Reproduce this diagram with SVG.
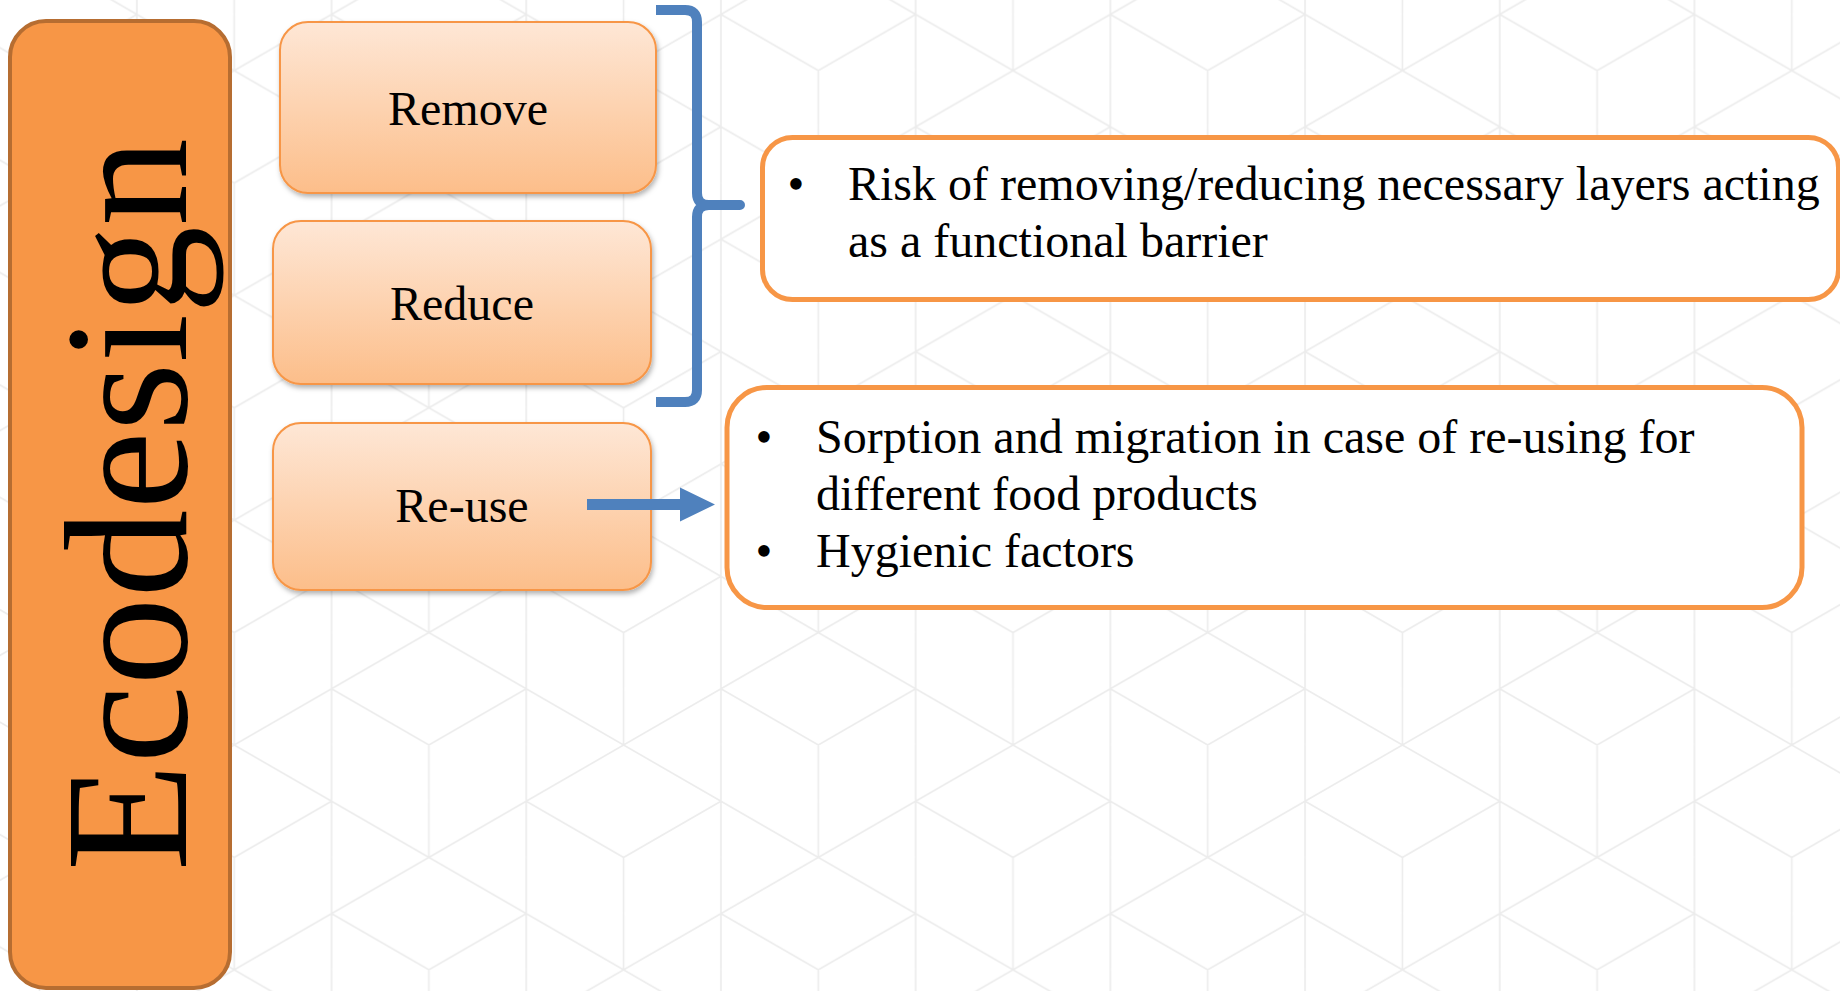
<svg xmlns="http://www.w3.org/2000/svg" width="1840" height="991" viewBox="0 0 1840 991">
  <style>
    .serif { font-family: "Liberation Serif", "Times New Roman", serif; fill: #000; }
    .step { fill: url(#stepGrad); stroke: #F79646; stroke-width: 2; filter: url(#shadow); }
    .label { font-size: 48px; text-anchor: middle; }
    .note { fill: #FFFFFF; stroke: #F79646; stroke-width: 5; }
    .body { font-size: 48px; }
    .blue { fill: #4F81BD; }
  </style>
  <defs>
    <pattern id="iso" patternUnits="userSpaceOnUse" x="331.55" y="70.6" width="389.4" height="224.8">
      <path d="M0,0V224.8 M389.4,0V224.8 M194.7,0V224.8 M97.35,0V112.4 M292.05,112.4V224.8
               M194.7,56.2L97.35,112.4L0,56.2 M97.35,112.4L194.7,168.6 M0,168.6L97.35,112.4
               M0,168.6L97.35,224.8L194.7,168.6
               M194.7,56.2L292.05,0L389.4,56.2 M389.4,168.6L292.05,224.8L194.7,168.6
               M194.7,56.2L292.05,112.4L389.4,56.2"
            fill="none" stroke="#ECECEC" stroke-width="1.6"/>
    </pattern>
    <linearGradient id="stepGrad" x1="0" y1="0" x2="0" y2="1">
      <stop offset="0" stop-color="#FEE7D6"/>
      <stop offset="1" stop-color="#FCBE8A"/>
    </linearGradient>
    <filter id="shadow" x="-10%" y="-10%" width="125%" height="130%">
      <feDropShadow dx="1.5" dy="3" stdDeviation="2.5" flood-color="#000" flood-opacity="0.3"/>
    </filter>
  </defs>

  <rect x="0" y="0" width="1840" height="991" fill="#FFFFFF"/>
  <rect x="0" y="0" width="1840" height="991" fill="url(#iso)"/>

  <g id="node-ecodesign">
    <rect x="10" y="21" width="220" height="967" rx="36" ry="36" fill="#F79646" stroke="#B66D31" stroke-width="4"/>
    <text class="serif" font-size="176" text-anchor="middle" transform="translate(186,504.5) rotate(-90)">Ecodesign</text>
  </g>

  <g id="node-remove">
    <rect class="step" x="280" y="22" width="376" height="171" rx="28" ry="28"/>
    <text class="serif label" x="468" y="125">Remove</text>
  </g>

  <g id="node-reduce">
    <rect class="step" x="273" y="221" width="378" height="163" rx="28" ry="28"/>
    <text class="serif label" x="462" y="320">Reduce</text>
  </g>

  <g id="node-reuse">
    <rect class="step" x="273" y="423" width="378" height="167" rx="28" ry="28"/>
    <text class="serif label" x="462" y="522">Re-use</text>
  </g>

  <g id="node-risk">
    <rect class="note" x="762.5" y="137.5" width="1076" height="162" rx="30" ry="30"/>
    <text class="serif body" x="796" y="200" text-anchor="middle">•</text>
    <text class="serif body" x="848" y="200">Risk of removing/reducing necessary layers acting</text>
    <text class="serif body" x="848" y="257">as a functional barrier</text>
  </g>

  <g id="node-sorption">
    <rect class="note" x="727" y="387.5" width="1075" height="220" rx="40" ry="40"/>
    <text class="serif body" x="764" y="453" text-anchor="middle">•</text>
    <text class="serif body" x="816" y="453">Sorption and migration in case of re-using for</text>
    <text class="serif body" x="816" y="510">different food products</text>
    <text class="serif body" x="764" y="567" text-anchor="middle">•</text>
    <text class="serif body" x="816" y="567">Hygienic factors</text>
  </g>

  <g id="connectors">
    <path d="M656,10 L685,10 Q697,10 697,22 L697,193 Q697,205 709,205 L740,205 L709,205 Q697,205 697,217 L697,390 Q697,402 685,402 L656,402"
          fill="none" stroke="#4F81BD" stroke-width="10" stroke-linejoin="round"/>
    <path class="blue" d="M587,499 L680,499 L680,487.5 L715,504.5 L680,521.5 L680,510 L587,510 Z"/>
  </g>
</svg>
